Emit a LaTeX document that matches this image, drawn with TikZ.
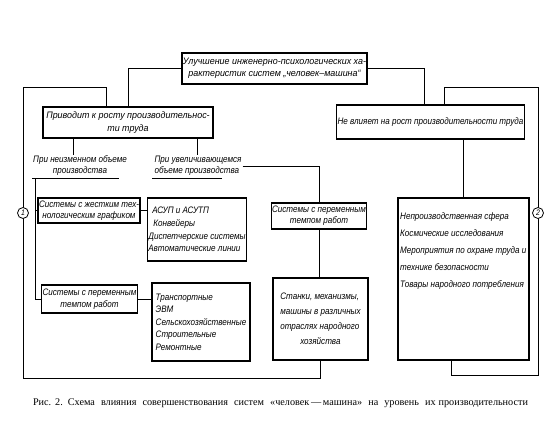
\documentclass[tikz,border=0pt]{standalone}
\usepackage{fontspec}
\newfontfamily\hw[FakeStretch=0.86]{Liberation Sans}
\newfontfamily\hwb[FakeStretch=0.95]{Liberation Sans}
\newfontfamily\capf{Liberation Serif}
\newcommand\hwfs[1]{\hw\itshape\fontsize{9.4}{#1}\selectfont}
\newcommand\hwbfs[1]{\hwb\itshape\fontsize{9.4}{#1}\selectfont}
\begin{document}
\begin{tikzpicture}[x=1pt,y=-1pt,
  box/.style={draw,line width=1.1pt,inner sep=1pt,align=center,font={\hwfs{12}}},
  conn/.style={line width=0.8pt},
  lbl/.style={inner sep=1pt,font={\hwfs{11}}},
  num/.style={circle,draw,fill=white,line width=0.8pt,inner sep=0pt,minimum size=11pt,font=\hw\itshape\fontsize{8}{8}\selectfont}]
\useasboundingbox (0,0) rectangle (560,436);
\fill[white] (0,0) rectangle (560,436);

% boxes
\node[box,minimum width=185pt,minimum height=31pt,font={\hwbfs{12}}] (top) at (274.5,68.5)
  {Улучшение инженерно-психологических ха-\\рактеристик систем „человек–машина“};
\node[box,minimum width=170pt,minimum height=31pt,font={\hwbfs{13}}] (prio) at (128,122.5)
  {Приводит к росту производительнос-\\ти труда};
\node[box,minimum width=187pt,minimum height=34pt] (nevl) at (430.5,122)
  {Не влияет на рост производительности труда};
\node[box,minimum width=92pt,minimum height=25pt,font={\hwfs{11}}] (zhest) at (89,210.5)
  {Системы с жестким тех-\\нологическим графиком};
\node[box,minimum width=92pt,minimum height=63pt,align=left,font={\hwfs{12.7}}] (asup) at (197,229.5)
  {\hspace*{4pt}АСУП и АСУТП\\\hspace*{5pt}Конвейеры\\Диспетчерские системы\\Автоматические линии};
\node[box,minimum width=93pt,minimum height=28pt,font={\hwfs{12}}] (perem1) at (89.5,299)
  {Системы с переменным\\темпом работ};
\node[box,minimum width=98pt,minimum height=78pt,align=left,font={\hwfs{12.5}}] (transp) at (201,322)
  {Транспортные\\ЭВМ\\Сельскохозяйственные\\Строительные\\Ремонтные\hspace*{40pt}};
\node[box,minimum width=90pt,minimum height=26pt,font={\hwfs{11}}] (perem2) at (319,216)
  {Системы с переменным\\темпом работ};
\node[box,minimum width=95pt,minimum height=82pt,align=left,font={\hwfs{15}}] (stanki) at (320.5,319)
  {Станки, механизмы,\\машины в различных\\отраслях народного\\\hspace*{20pt}хозяйства};
\node[box,minimum width=131pt,minimum height=162pt] (neproizv) at (463.5,279) {};
\node[lbl,anchor=north west,align=left,font={\hwfs{17}}] (neprtext) at (399,211)
  {Непроизводственная сфера\\Космические исследования\\Мероприятия по охране труда и\\технике безопасности\\Товары народного потребления};

% labels
\node[lbl,align=center] (t1) at (80,166) {При неизменном объеме\\производства};
\node[lbl,align=left] (t2) at (198,166) {При увеличивающемся\\объеме производства};
\coordinate (u1a) at (32,178); \coordinate (u1b) at (119,178);
\coordinate (u2a) at (152,178); \coordinate (u2b) at (222,178);
\draw[conn] (u1a) -- (u1b);
\draw[conn] (u2a) -- (u2b);

% connectors from top box
\draw[conn] (top.west) -| (prio.north);
\draw[conn] (top.east) -| ([xshift=-6.5pt]nevl.north);

% outer loops
\coordinate (L1) at (23,87);
\coordinate (L2) at (23,378);
\draw[conn] ([xshift=-22pt]prio.north) |- (L1) -- (L2) -| (stanki.south);
\coordinate (R1) at (538,87);
\coordinate (R2) at (538,375);
\draw[conn] ([xshift=13.5pt]nevl.north) |- (R1) -- (R2) -| ([xshift=-12.5pt]neproizv.south);

% from prio
\draw[conn] ([xshift=-55pt]prio.south) -- ([xshift=-55pt]prio.south |- t1.north);
\draw[conn] ([xshift=69pt]prio.south) -- ([xshift=69pt]prio.south |- t2.north);

% left branch
\coordinate (V1) at (35,178);
\draw[conn] (V1) |- (perem1.west);
\draw[conn] (V1 |- zhest.west) -- (zhest.west);
\draw[conn] (zhest.east) -- (zhest.east -| asup.west);
\draw[conn] (perem1.east) -- (perem1.east -| transp.west);

% middle branch
\draw[conn] (t2.east) -| (perem2.north);
\draw[conn] (perem2.south) -- (perem2.south |- stanki.north);

% right branch
\draw[conn] (neproizv.north |- nevl.south) -- (neproizv.north);

% circle markers
\node[num] (c1) at (23,213) {1};
\node[num] (c2) at (538,213) {2};

% caption
\node[inner sep=0pt,font=\capf\fontsize{10.2}{12}\selectfont] (cap) at (280.5,403)
  {\makebox[495pt][s]{Рис.\hspace{4pt}2.\hspace{5pt}Схема влияния совершенствования систем «человек\,—\,машина» на уровень их\hspace{3pt}производительности}};
\end{tikzpicture}
\end{document}
